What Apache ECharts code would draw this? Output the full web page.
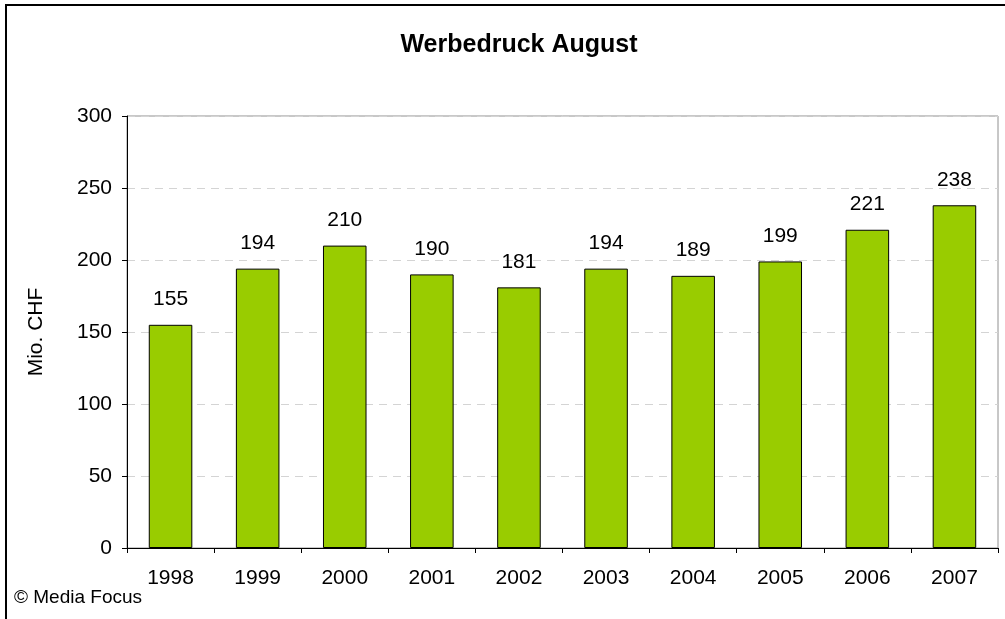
<!DOCTYPE html>
<html>
<head>
<meta charset="utf-8">
<script src="https://cdn.jsdelivr.net/npm/echarts@6/dist/echarts.min.js"></script>
<style>
  html, body { margin: 0; padding: 0; background: #fff; }
  #chart { width: 1005px; height: 619px; }
</style>
</head>
<body>
<div id="chart"></div>
<script>
// Daten
const years = ['1998', '1999', '2000', '2001', '2002', '2003', '2004', '2005', '2006', '2007'];
const werbedruck = [155, 194, 210, 190, 181, 194, 189, 199, 221, 238];
const yTicks = [0, 50, 100, 150, 200, 250, 300];

const FONT = '"Liberation Sans", Arial, sans-serif';

var myChart = echarts.init(document.getElementById('chart'));

var option = {
    animation: false,
    backgroundColor: '#fff',
    title: {
        text: 'Werbedruck August',
        left: 514,
        top: 28,
        textAlign: 'center',
        textStyle: { fontFamily: FONT, fontSize: 25, fontWeight: 'bold', color: '#000' }
    },
    grid: {
        left: 127, top: 116, right: 7, bottom: 71,
        show: true,
        borderColor: '#909090',
        borderWidth: 1
    },
    xAxis: {
        type: 'category',
        data: years,
        axisLine: { lineStyle: { color: '#000', width: 1 } },
        axisTick: { show: true, length: 5, inside: false, alignWithLabel: false, lineStyle: { color: '#000' } },
        axisLabel: { fontFamily: FONT, fontSize: 21, color: '#000', margin: 20 }
    },
    yAxis: {
        type: 'value',
        min: yTicks[0],
        max: yTicks[yTicks.length - 1],
        interval: 50,
        name: 'Mio. CHF',
        nameLocation: 'middle',
        nameGap: 80,
        nameTextStyle: { fontFamily: FONT, fontSize: 21, color: '#000' },
        axisLine: { show: true, lineStyle: { color: '#000', width: 1 } },
        axisTick: { show: true, length: 5, lineStyle: { color: '#000' } },
        axisLabel: { fontFamily: FONT, fontSize: 21, color: '#000', margin: 15 },
        splitLine: { show: true, lineStyle: { color: '#d4d4d4', type: [8, 6], width: 1 } }
    },
    series: [{
        type: 'bar',
        data: werbedruck,
        barWidth: '50%',
        itemStyle: { color: '#99CC00', borderColor: '#000', borderWidth: 1 },
        label: {
            show: true,
            position: 'top',
            distance: 15,
            fontFamily: FONT,
            fontSize: 21,
            color: '#000'
        }
    }],
    graphic: [
        {
            type: 'rect',
            shape: { x: 6, y: 5, width: 1100, height: 700 },
            style: { fill: 'none', stroke: '#000', lineWidth: 2 },
            silent: true
        },
        {
            type: 'text',
            left: 14,
            top: 588,
            style: { text: '© Media Focus', fontFamily: FONT, fontSize: 19, fill: '#000' }
        }
    ]
};

myChart.setOption(option);
</script>
</body>
</html>
